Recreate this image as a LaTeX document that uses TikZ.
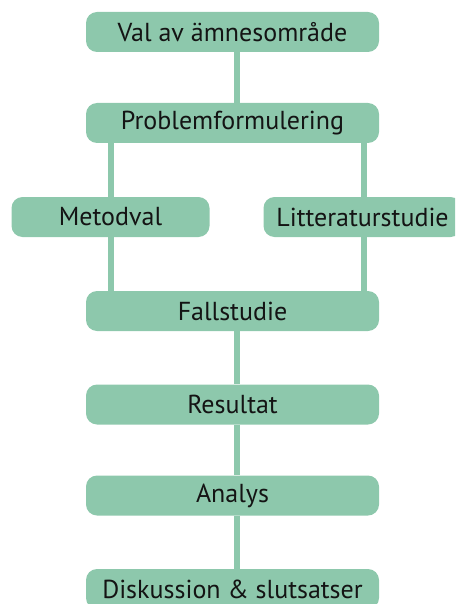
\documentclass[tikz,border=0pt]{standalone}
\usepackage{fontspec}
\setmainfont{PT Sans}
\usetikzlibrary{backgrounds}
\definecolor{mint}{HTML}{8DC8AC}
\definecolor{ink}{HTML}{141414}
\tikzset{
  stepbox/.style={fill=mint, draw=none, rounded corners=11pt, minimum height=40pt,
    inner sep=0pt, text=ink, font=\fontsize{26}{30}\selectfont},
  widebox/.style={stepbox, minimum width=293pt},
  sidebox/.style={stepbox, minimum width=198pt},
  link/.style={draw=mint, line width=6pt}
}
\begin{document}
\begin{tikzpicture}[x=1pt,y=-1pt]
\useasboundingbox (0,0) rectangle (455,604);
\begin{scope}
\clip (0,0) rectangle (455,604);
\node[widebox] (val)  at (232.5,32)    {Val av ämnesområde};
\node[widebox] (prob) at (232.5,123)   {Problemformulering};
\node[sidebox] (met)  at (110.5,217)   {Metodval};
\node[sidebox] (lit)  at (362.5,217)   {Litteraturstudie};
\node[widebox] (fall) at (232.5,311)   {Fallstudie};
\node[widebox] (res)  at (232.5,404.5) {Resultat};
\node[widebox] (ana)  at (232.5,495.5) {Analys};
\node[widebox] (disk) at (232.5,589)   {Diskussion \& slutsatser};
% connectors behind the boxes
\begin{pgfonlayer}{background}
\draw[link] ([xshift=4pt]val.south)  -- ([xshift=4pt]prob.north);
\draw[link] (prob.south -| met)      -- (met.north);
\draw[link] (met.south)              -- (fall.north -| met);
\draw[link] ([xshift=1.5pt]prob.south -| lit) -- ([xshift=1.5pt]lit.north);
\draw[link] ([xshift=1.5pt]lit.south) -- ([xshift=1.5pt]fall.north -| lit);
\draw[link] ([xshift=4pt]fall.south) -- ([xshift=4pt]res.north);
\draw[link] ([xshift=4pt]res.south)  -- ([xshift=4pt]ana.north);
\draw[link] ([xshift=4pt]ana.south)  -- ([xshift=4pt]disk.north);
\end{pgfonlayer}
\end{scope}
\end{tikzpicture}
\end{document}
